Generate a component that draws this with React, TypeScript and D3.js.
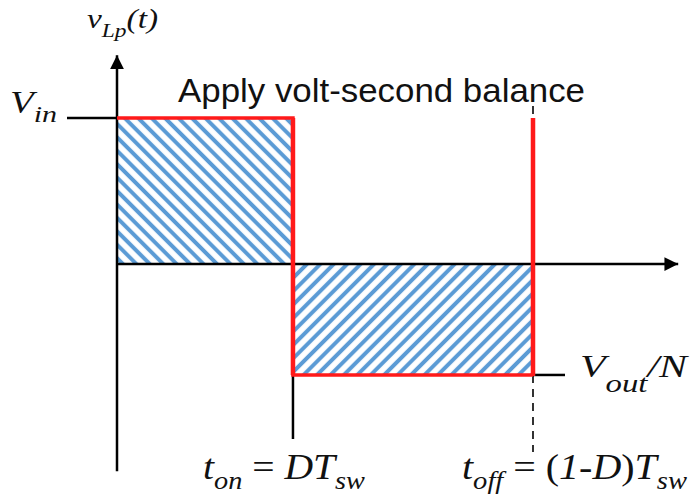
import React from "react";
import * as d3 from "d3";

// Switching period normalised to 1; on-time is D·Tsw
const timeMarks = [0, 0.423, 1];
// Inductor voltage levels (normalised to Vin)
const voltLevels = [1, -0.76];
// Axis extents in data units
const timeAxisEnd = [1.349];
const voltAxisRange = [1.43, -1.42];
const title = ["Apply volt-second balance"];

const W = 691;
const H = 497;

export default function App() {
  const x = d3.scaleLinear().domain([0, 1]).range([117, 533]);
  const y = d3.scaleLinear().domain([0, 1]).range([264, 118]);

  const [t0, tOn, tSw] = timeMarks;
  const [vIn, vOut] = voltLevels;

  const serif = "'Liberation Serif', 'Times New Roman', serif";
  const sans = "'Liberation Sans', Arial, sans-serif";
  const blue = "#5b9bd5";
  const red = "#ff1a1a";
  const ink = "#111";

  const line = d3.line<[number, number]>().x((d) => d[0]).y((d) => d[1]);

  const xEnd = x(timeAxisEnd[0]);
  const yTop = y(voltAxisRange[0]);
  const yBot = y(voltAxisRange[1]);

  return (
    <svg width={W} height={H} style={{ position: "absolute", left: 0, top: 0, background: "#fff" }}>
      <defs>
        <pattern id="hatchUp" width={9.5} height={9.5} patternUnits="userSpaceOnUse" patternTransform="rotate(-45)">
          <rect width={9.5} height={9.5} fill="#fff" />
          <line x1={4.75} y1={0} x2={4.75} y2={9.5} stroke={blue} strokeWidth={4} />
        </pattern>
        <pattern id="hatchDown" width={9.5} height={9.5} patternUnits="userSpaceOnUse" patternTransform="rotate(45)">
          <rect width={9.5} height={9.5} fill="#fff" />
          <line x1={4.75} y1={0} x2={4.75} y2={9.5} stroke={blue} strokeWidth={4} />
        </pattern>
        <marker id="arrow" viewBox="0 0 10 10" refX={10} refY={5} markerWidth={6} markerHeight={5.5} markerUnits="strokeWidth" orient="auto">
          <path d="M0,0 L10,5 L0,10 Z" fill="#000" />
        </marker>
      </defs>

      {/* volt-second areas */}
      <rect x={x(t0)} y={y(vIn)} width={x(tOn) - x(t0)} height={y(0) - y(vIn)} fill="url(#hatchUp)" />
      <rect x={x(tOn)} y={y(0)} width={x(tSw) - x(tOn)} height={y(vOut) - y(0)} fill="url(#hatchDown)" />

      {/* axes */}
      <path d={line([[x(t0), y(0)], [xEnd, y(0)]])!} stroke="#000" strokeWidth={2.5} fill="none" markerEnd="url(#arrow)" />
      <path d={line([[x(t0), yBot], [x(t0), yTop]])!} stroke="#000" strokeWidth={2.5} fill="none" markerEnd="url(#arrow)" />

      {/* level ticks */}
      <line x1={67} x2={x(t0)} y1={y(vIn)} y2={y(vIn)} stroke="#000" strokeWidth={2.5} />
      <line x1={x(tSw)} x2={565} y1={y(vOut)} y2={y(vOut)} stroke="#000" strokeWidth={2.5} />

      {/* time markers */}
      <line x1={x(tOn)} x2={x(tOn)} y1={360} y2={439} stroke="#000" strokeWidth={2.5} />
      <line x1={x(tSw)} x2={x(tSw)} y1={y(vOut)} y2={452} stroke="#000" strokeWidth={1.6} strokeDasharray="8,6" />
      <line x1={x(tSw)} x2={x(tSw)} y1={106} y2={y(vIn)} stroke="#000" strokeWidth={1.6} strokeDasharray="8,6" />

      {/* inductor voltage waveform */}
      <path
        d={line([[x(t0), y(vIn)], [x(tOn), y(vIn)], [x(tOn), y(vOut)], [x(tSw), y(vOut)]])!}
        stroke={red}
        strokeWidth={3.5}
        fill="none"
        strokeLinejoin="miter"
      />
      <line x1={x(tOn)} x2={x(tOn)} y1={y(vIn)} y2={y(vOut)} stroke={red} strokeWidth={4.5} />
      <line x1={x(tSw)} x2={x(tSw)} y1={y(vIn)} y2={y(vOut) + 1} stroke={red} strokeWidth={4.5} />

      {/* labels */}
      <text x={178} y={102} fontFamily={sans} fontSize={34} fill={ink} textLength={407} lengthAdjust="spacingAndGlyphs">
        {title[0]}
      </text>

      <text x={87} y={28} fontFamily={serif} fontStyle="italic" fontSize={27} fill={ink} textLength={71} lengthAdjust="spacingAndGlyphs">
        v<tspan fontSize={19} dy={9}>Lp</tspan>
        <tspan dy={-9}>(t)</tspan>
      </text>

      <text x={10} y={113} fontFamily={serif} fontStyle="italic" fontSize={31} fill={ink} textLength={47} lengthAdjust="spacingAndGlyphs">
        V<tspan fontSize={24} dy={9}>in</tspan>
      </text>

      <text x={580} y={377} fontFamily={serif} fontStyle="italic" fontSize={32} fill={ink} textLength={107} lengthAdjust="spacingAndGlyphs">
        V<tspan fontSize={25} dy={15}>out</tspan>
        <tspan dy={-15}>/N</tspan>
      </text>

      <text x={203} y={479} fontFamily={serif} fontSize={35} fill={ink} textLength={162} lengthAdjust="spacingAndGlyphs">
        <tspan fontStyle="italic">t</tspan>
        <tspan fontStyle="italic" fontSize={25} dy={10}>on</tspan>
        <tspan dy={-10}> = </tspan>
        <tspan fontStyle="italic">DT</tspan>
        <tspan fontStyle="italic" fontSize={25} dy={10}>sw</tspan>
      </text>

      <text x={462} y={479} fontFamily={serif} fontSize={35} fill={ink} textLength={225} lengthAdjust="spacingAndGlyphs">
        <tspan fontStyle="italic">t</tspan>
        <tspan fontStyle="italic" fontSize={25} dy={10}>off</tspan>
        <tspan dy={-10}> = (</tspan>
        <tspan fontStyle="italic">1-D</tspan>
        <tspan>)</tspan>
        <tspan fontStyle="italic">T</tspan>
        <tspan fontStyle="italic" fontSize={25} dy={10}>sw</tspan>
      </text>
    </svg>
  );
}
